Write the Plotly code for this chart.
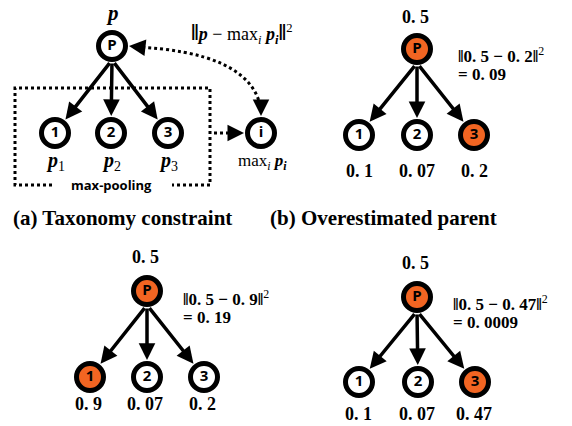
import plotly.graph_objects as go
import math

# ---------------- data ----------------
parent_value = 0.5
children_b = [0.1, 0.07, 0.2]
children_c = [0.9, 0.07, 0.2]
children_d = [0.1, 0.07, 0.47]
loss_b = "0.09"
loss_c = "0.19"
loss_d = "0.0009"
child_names = ["1", "2", "3"]
captions = ["(a) Taxonomy constraint", "(b) Overestimated parent"]

# ---------------- layout constants ----------------
W, H = 572, 426
ORANGE = "#F26522"
SERIF = "Liberation Serif"
SANS = "Open Sans"

fig = go.Figure()
shapes = []
ann = []

def fmt(v):
    s = f"{v:g}"
    return s.replace(".", ". ")

def arrow(x0, y0, x1, y1, width=3.5, size=0.95):
    ann.append(dict(x=x1, y=y1, ax=x0, ay=y0, xref="x", yref="y", axref="x", ayref="y",
                    showarrow=True, arrowhead=2, arrowsize=size, arrowwidth=width,
                    arrowcolor="black", text=""))

def text(x, y, t, size=16, family=SERIF, xanchor="center", yanchor="middle", color="black"):
    ann.append(dict(x=x, y=y, xref="x", yref="y", text=t, showarrow=False,
                    font=dict(size=size, family=family, color=color),
                    xanchor=xanchor, yanchor=yanchor))

node_x, node_y, node_fill, node_lbl = [], [], [], []

def node(x, y, lbl, orange=False):
    node_x.append(x); node_y.append(y)
    node_fill.append(ORANGE if orange else "white")
    node_lbl.append(lbl)

def tree(px, py, cxs, cy, highlight=None, parent_orange=False):
    node(px, py, "P", parent_orange)
    for i, cx in enumerate(cxs):
        node(cx, cy, child_names[i], highlight == i)
        sx, sy = px, py + 14
        dx, dy = cx - sx, cy - sy
        L = math.hypot(dx, dy)
        ex, ey = cx - dx / L * 17, cy - dy / L * 17
        arrow(sx + dx / L * 2, sy + dy / L * 2, ex, ey)

BAR = "<span style='font-size:24px'><b>‖</b></span>"

# ---- panel (a)
a_cx = [55, 111, 168]
a_cy = 133
tree(112, 46, a_cx, a_cy)
node(261, 133, "i")
text(112, 13, "<b><i>p</i></b>", size=21)
for i, cx in enumerate(a_cx):
    text(cx, 161, f"<b><i>p</i></b><sub>{i+1}</sub>", size=20)
text(189, 33, f"{BAR}<b><i>p</i></b> − max<sub><i>i</i></sub> <b><i>p<sub>i</sub></i></b>{BAR}<sup>2</sup>",
     size=18, xanchor="left")
text(262, 162, "max<sub><i>i</i></sub> <b><i>p<sub>i</sub></i></b>", size=17)
# dotted max-pooling box
shapes.append(dict(type="path", xref="x", yref="y",
                   path="M 52,185 L 15,185 L 15,88 L 210,88 L 210,185 L 172,185",
                   line=dict(color="black", width=3, dash="dot")))
text(111, 185, "<b>max-pooling</b>", size=13, family=SANS)
# dotted arrow box -> i
shapes.append(dict(type="line", xref="x", yref="y", x0=214, y0=133, x1=238, y1=133,
                   line=dict(color="black", width=3, dash="dot")))
arrow(236, 133, 244, 133, width=3, size=1.1)
# curved dotted double arrow P <-> i
shapes.append(dict(type="path", xref="x", yref="y",
                   path="M 136,47 C 205,50 255,68 261,110",
                   line=dict(color="black", width=3, dash="dot")))
arrow(138, 47, 129, 46, width=3, size=1.1)
arrow(261, 108, 261, 116, width=3, size=1.1)

# ---- panel (b)
b_cx = [359, 417, 474]
tree(417, 49, b_cx, 135, highlight=2, parent_orange=True)
text(415, 17, f"<b>{fmt(parent_value)}</b>", size=18)
for cx, v in zip(b_cx, children_b):
    text(cx, 171, f"<b>{fmt(v)}</b>", size=18)
text(456, 55, f"<b>‖{fmt(parent_value)} − {fmt(max(children_b))}‖</b><sup>2</sup>", size=17, xanchor="left")
text(456, 74, f"<b>= {fmt(float(loss_b))}</b>", size=17, xanchor="left")

# ---- panel (c)
c_cx = [90, 147, 204]
tree(147, 291, c_cx, 377, highlight=0, parent_orange=True)
text(145, 257, f"<b>{fmt(parent_value)}</b>", size=18)
for cx, v in zip(c_cx, children_c):
    text(cx - 2, 404, f"<b>{fmt(v)}</b>", size=18)
text(181, 298, f"<b>‖{fmt(parent_value)} − {fmt(max(children_c))}‖</b><sup>2</sup>", size=17, xanchor="left")
text(181, 317, f"<b>= {loss_c.replace('.', '. ')}</b>", size=17, xanchor="left")

# ---- panel (d)
d_cx = [359, 418, 475]
tree(417, 297, d_cx, 382, highlight=2, parent_orange=True)
text(415, 263, f"<b>{fmt(parent_value)}</b>", size=18)
for cx, v in zip(d_cx, children_d):
    text(cx - 1, 414, f"<b>{fmt(v)}</b>", size=18)
text(451, 303, f"<b>‖{fmt(parent_value)} − {fmt(max(children_d))}‖</b><sup>2</sup>", size=17, xanchor="left")
text(451, 322, f"<b>= {loss_d.replace('.', '. ')}</b>", size=17, xanchor="left")

# captions
text(122, 218, f"<b>{captions[0]}</b>", size=21)
text(383, 218, f"<b>{captions[1]}</b>", size=21)

fig.add_trace(go.Scatter(
    x=node_x, y=node_y, mode="markers+text",
    marker=dict(size=27, color=node_fill, line=dict(color="black", width=5)),
    text=[f"<b>{l}</b>" for l in node_lbl], textposition="middle center",
    textfont=dict(size=15, family=SANS, color="black"),
    hoverinfo="skip", showlegend=False, cliponaxis=False))

fig.update_layout(
    width=W, height=H, margin=dict(l=0, r=0, t=0, b=0),
    paper_bgcolor="white", plot_bgcolor="white",
    xaxis=dict(range=[0, W], visible=False, fixedrange=True),
    yaxis=dict(range=[H, 0], visible=False, fixedrange=True),
    shapes=shapes, annotations=ann, showlegend=False)

fig.write_html("out.html", config=dict(displayModeBar=False),
               post_script="document.body.style.margin='0';document.body.style.padding='0';")
